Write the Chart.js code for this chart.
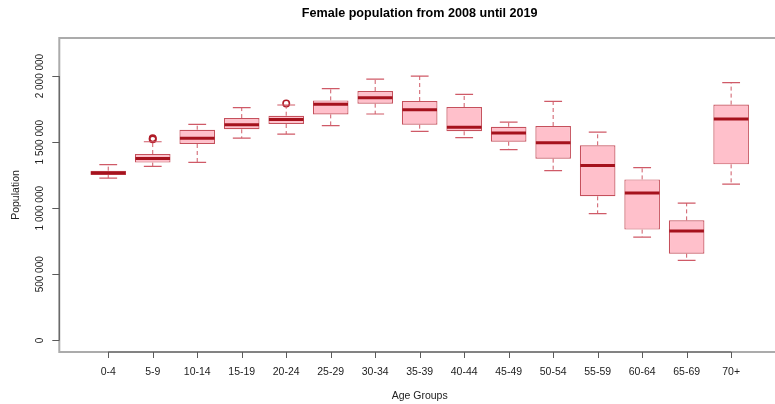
<!DOCTYPE html>
<html>
<head>
<meta charset="utf-8">
<script src="https://cdn.jsdelivr.net/npm/chart.js@4/dist/chart.umd.min.js"></script>
<style>
  html, body { margin: 0; padding: 0; background: #ffffff; }
  canvas { display: block; }
</style>
</head>
<body>
<canvas id="chart" width="775" height="404"></canvas>
<script>
// Age groups along the x axis
const categories = ['0-4', '5-9', '10-14', '15-19', '20-24', '25-29', '30-34', '35-39',
  '40-44', '45-49', '50-54', '55-59', '60-64', '65-69', '70+'];

// Five-number summary of the yearly female population per age group (2008-2019)
const lowerWhisker = [1228000, 1317000, 1347000, 1531000, 1561000, 1625000, 1713000, 1582000,
  1534000, 1443000, 1284000, 959000, 782000, 605000, 1183000];
const lowerQuartile = [1251000, 1345000, 1486000, 1597000, 1637000, 1710000, 1791000, 1632000,
  1582000, 1503000, 1375000, 1090000, 838000, 656000, 1332000];
const medianValue = [1266000, 1377000, 1529000, 1632000, 1672000, 1786000, 1836000, 1746000,
  1612000, 1569000, 1496000, 1324000, 1115000, 827000, 1675000];
const upperQuartile = [1284000, 1410000, 1594000, 1682000, 1700000, 1816000, 1887000, 1811000,
  1766000, 1617000, 1622000, 1476000, 1218000, 908000, 1784000];
const upperWhisker = [1330000, 1503000, 1634000, 1761000, 1781000, 1905000, 1977000, 2000000,
  1862000, 1652000, 1809000, 1576000, 1307000, 1039000, 1950000];

// Outlying years: age group index (1-based) and value
const outlierGroup = [2, 2, 5];
const outlierValue = [1521000, 1529000, 1793000];

// Y axis tick values
const yTicks = [0, 500000, 1000000, 1500000, 2000000];

const FONT = '"Liberation Sans", Arial, Helvetica, sans-serif';
const COLORS = {
  boxFill: '#ffc0cb',
  boxBorder: '#c5505c',
  whisker: '#cf5a67',
  median: '#a5121d',
  outlier: '#b01c28',
  frame: '#ababab',
  axis: '#5a5a5a',
  text: '#222222'
};

function formatThousands(v) {
  return String(v).replace(/\B(?=(\d{3})+(?!\d))/g, ' ');
}

// Whiskers, caps and medians drawn on top of the floating bars
const boxWhiskerPlugin = {
  id: 'boxWhisker',
  afterDatasetsDraw(chart) {
    const { ctx, scales: { x, y } } = chart;
    ctx.save();
    categories.forEach((_, i) => {
      const pos = i + 1;
      const cx = x.getPixelForValue(pos);
      const capHalf = x.getPixelForValue(pos + 0.2) - cx;
      const boxHalf = x.getPixelForValue(pos + 0.4) - cx;
      const yUW = y.getPixelForValue(upperWhisker[i]);
      const yQ3 = y.getPixelForValue(upperQuartile[i]);
      const yQ1 = y.getPixelForValue(lowerQuartile[i]);
      const yLW = y.getPixelForValue(lowerWhisker[i]);
      const yMed = y.getPixelForValue(medianValue[i]);

      // dashed whisker stems
      ctx.strokeStyle = COLORS.whisker;
      ctx.lineWidth = 1;
      ctx.setLineDash([4, 3]);
      ctx.beginPath();
      ctx.moveTo(cx, yQ3); ctx.lineTo(cx, yUW);
      ctx.moveTo(cx, yQ1); ctx.lineTo(cx, yLW);
      ctx.stroke();

      // whisker caps
      ctx.setLineDash([]);
      ctx.lineWidth = 1.2;
      ctx.beginPath();
      ctx.moveTo(cx - capHalf, yUW); ctx.lineTo(cx + capHalf, yUW);
      ctx.moveTo(cx - capHalf, yLW); ctx.lineTo(cx + capHalf, yLW);
      ctx.stroke();

      // median line
      ctx.strokeStyle = COLORS.median;
      ctx.lineWidth = 3;
      ctx.beginPath();
      ctx.moveTo(cx - boxHalf + 0.5, yMed); ctx.lineTo(cx + boxHalf - 0.5, yMed);
      ctx.stroke();
    });
    ctx.restore();
  }
};

// Plot frame, axes, tick labels and titles
const frameAxesPlugin = {
  id: 'frameAxes',
  afterDraw(chart) {
    const { ctx, chartArea: a, scales: { x, y } } = chart;
    ctx.save();

    // frame around the plotting region
    ctx.strokeStyle = COLORS.frame;
    ctx.lineWidth = 2;
    ctx.strokeRect(a.left, a.top, a.right - a.left + 20, a.bottom - a.top);

    // y axis line and ticks
    const y0 = y.getPixelForValue(yTicks[0]);
    const y1 = y.getPixelForValue(yTicks[yTicks.length - 1]);
    ctx.strokeStyle = COLORS.axis;
    ctx.lineWidth = 1;
    ctx.beginPath();
    ctx.moveTo(a.left, y0); ctx.lineTo(a.left, y1);
    yTicks.forEach(v => {
      const py = Math.round(y.getPixelForValue(v)) + 0.5;
      ctx.moveTo(a.left, py); ctx.lineTo(a.left - 7, py);
    });
    ctx.stroke();

    // x axis line and ticks
    const xFirst = x.getPixelForValue(1);
    const xLast = x.getPixelForValue(categories.length);
    ctx.beginPath();
    ctx.moveTo(xFirst, a.bottom); ctx.lineTo(xLast, a.bottom);
    categories.forEach((_, i) => {
      const px = Math.round(x.getPixelForValue(i + 1)) + 0.5;
      ctx.moveTo(px, a.bottom); ctx.lineTo(px, a.bottom + 6);
    });
    ctx.stroke();

    // y tick labels, written vertically
    ctx.fillStyle = COLORS.text;
    ctx.font = '10px ' + FONT;
    ctx.textAlign = 'center';
    ctx.textBaseline = 'middle';
    yTicks.forEach(v => {
      ctx.save();
      ctx.translate(40, y.getPixelForValue(v));
      ctx.rotate(-Math.PI / 2);
      ctx.fillText(formatThousands(v), 0, 0);
      ctx.restore();
    });

    // x tick labels
    ctx.font = '10.5px ' + FONT;
    categories.forEach((c, i) => {
      ctx.fillText(c, x.getPixelForValue(i + 1), 372);
    });

    // axis titles
    const plotCenterX = (a.left + x.getPixelForValue(categories.length + 1.1)) / 2;
    ctx.font = '10.5px ' + FONT;
    ctx.fillText('Age Groups', plotCenterX, 396);
    ctx.save();
    ctx.translate(16, (a.top + a.bottom) / 2);
    ctx.rotate(-Math.PI / 2);
    ctx.fillText('Population', 0, 0);
    ctx.restore();

    // main title
    ctx.fillStyle = '#000000';
    ctx.font = 'bold 12.6px ' + FONT;
    ctx.fillText('Female population from 2008 until 2019', plotCenterX, 14);

    ctx.restore();
  }
};

const boxData = categories.map((_, i) => ({ x: i + 1, y: [lowerQuartile[i], upperQuartile[i]] }));
const outlierData = outlierGroup.map((g, i) => ({ x: g, y: outlierValue[i] }));

new Chart(document.getElementById('chart'), {
  type: 'bar',
  data: {
    datasets: [
      {
        type: 'bar',
        label: 'Interquartile range',
        data: boxData,
        backgroundColor: COLORS.boxFill,
        borderColor: COLORS.boxBorder,
        borderWidth: 1.2,
        borderSkipped: false,
        barPercentage: 0.8,
        categoryPercentage: 1.0,
        order: 2
      },
      {
        type: 'scatter',
        label: 'Outliers',
        data: outlierData,
        pointStyle: 'circle',
        pointRadius: 3.2,
        pointBorderWidth: 1.6,
        pointBorderColor: COLORS.outlier,
        pointBackgroundColor: 'rgba(0,0,0,0)',
        order: 1
      }
    ]
  },
  options: {
    responsive: false,
    animation: false,
    events: [],
    layout: { padding: { left: 59.3, top: 38, right: 0, bottom: 52 } },
    plugins: {
      legend: { display: false },
      tooltip: { enabled: false },
      title: { display: false }
    },
    scales: {
      x: { type: 'linear', min: -0.1, max: 15.86, display: false, offset: false },
      y: { type: 'linear', min: -88000, max: 2288000, display: false }
    }
  },
  plugins: [boxWhiskerPlugin, frameAxesPlugin]
});
</script>
</body>
</html>
